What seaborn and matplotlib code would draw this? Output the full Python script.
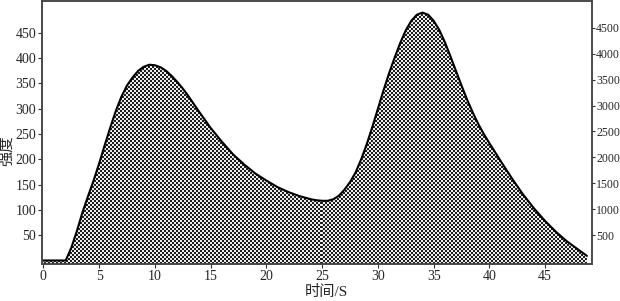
import matplotlib
matplotlib.use('Agg')
import matplotlib.pyplot as plt
import numpy             as np
import pandas            as pd
import seaborn           as sns

# Values
time_s = [0, 1, 2, 2.5, 3, 3.5, 4, 4.5, 5, 5.5, 6, 6.5, 7, 7.5, 8, 8.5, 9, 9.5, 10, 10.5,
          11, 11.5, 12, 12.5, 13, 13.5, 14, 15, 16, 17, 18, 19, 20, 21, 22, 23, 24, 24.5, 25, 25.5,
          26, 26.5, 27, 27.5, 28, 28.5, 29, 29.5, 30, 30.5, 31, 31.5, 32, 32.5, 33, 33.5, 34,
          34.5, 35, 35.5, 36, 36.5, 37, 37.5, 38, 38.5, 39, 39.5, 40,
          41, 42, 43, 44, 45, 46, 47, 48, 48.75]
intensity = [0, 0, 0, 25, 58, 95, 127, 158, 192, 228, 263, 296, 324, 346, 362, 375, 383, 387, 386, 382,
             375, 365, 353, 340, 325, 309, 293, 262, 235, 210, 190, 172, 158, 145, 135, 127, 121, 119, 118, 118,
             121, 128, 140, 155, 174, 200, 230, 264, 300, 336, 370, 401, 430, 455, 474, 486, 490,
             486, 474, 456, 432, 404, 375, 346, 318, 293, 270, 250, 232,
             197, 163, 131, 103, 78, 56, 37, 21, 9]

x_ticks       = [0, 5, 10, 15, 20, 25, 30, 35, 40, 45]
left_ticks    = [50, 100, 150, 200, 250, 300, 350, 400, 450]
right_ticks   = [500, 1000, 1500, 2000, 2500, 3000, 3500, 4000, 4500]

df = pd.DataFrame({'time': time_s, 'intensity': intensity})

sns.set_style('ticks')
plt.rcParams['font.family'] = ['Liberation Serif', 'Noto Sans CJK SC']

fig = plt.figure(figsize = (6.2, 3.01), dpi = 100)
ax  = fig.add_axes([0.0673, 0.1229, 0.8875, 0.8738])

x_lim = (-0.15, 49.2)
y_lim = (-7, 513)

# Checkerboard texture clipped to the filled area
poly = ax.fill_between(df['time'], df['intensity'], y_lim[0], facecolor = 'none', edgecolor = 'none')
nx, ny = 275, 132
checker = (np.add.outer(np.arange(ny), np.arange(nx)) % 2).astype(float)
im = ax.imshow(checker, cmap = 'gray', vmin = -0.15, vmax = 1.1, extent = (*x_lim, *y_lim),
               aspect = 'auto', interpolation = 'nearest', zorder = 1)
im.set_clip_path(poly.get_paths()[0], transform = ax.transData)

sns.lineplot(data = df, x = 'time', y = 'intensity', ax = ax, color = 'black', linewidth = 1.5, zorder = 3)

ax.set_xlim(*x_lim)
ax.set_ylim(*y_lim)
ax.set_xticks(x_ticks)
ax.set_yticks(left_ticks)
ax.set_xlabel('')
ax.set_ylabel('')
ax.tick_params(labelsize = 10, length = 3, width = 0.8, pad = 1, color = '#333333')

# Right axis
ax2 = ax.twinx()
ax2.set_ylim(-60, 5018)
ax2.set_yticks(right_ticks)
ax2.tick_params(labelsize = 8.5, length = 2.5, width = 0.8, pad = 0.5, color = '#333333')

for a in (ax, ax2):
    for side in ['left', 'right', 'top', 'bottom']:
        a.spines[side].set_visible(True)
        a.spines[side].set_color('#444444')
        a.spines[side].set_linewidth(1.1)

fig.text(0.526, 0.03, '时间/S', ha = 'center', va = 'center', fontsize = 11)
fig.text(0.011, 0.50, '强度', ha = 'center', va = 'center', rotation = 90, fontsize = 11)

plt.savefig('out.png', dpi = 100)
